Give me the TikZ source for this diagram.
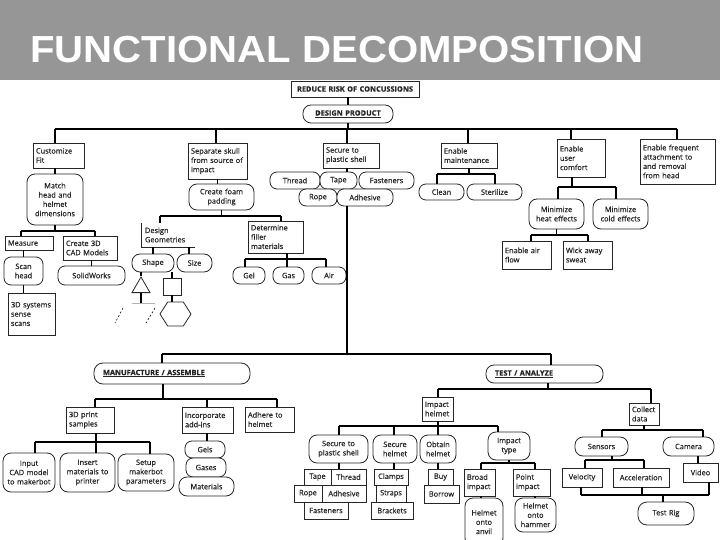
\documentclass[tikz,border=0pt]{standalone}
\usepackage{fontspec}
\setmainfont{Open Sans}
\newfontfamily\diafont{Open Sans}[FakeBold=0.6]
\newfontfamily\titlefont{Liberation Sans}
\usetikzlibrary{shapes.geometric,shadows}
\definecolor{titlegray}{HTML}{969696}
\newcommand\nd[7][]{%
 \pgfmathsetmacro\ndcx{(#3+#5)/2}%
 \pgfmathsetmacro\ndcy{(#4+#6)/2}%
 \pgfmathsetmacro\ndw{#5-#3}%
 \pgfmathsetmacro\ndh{#6-#4}%
 \pgfmathsetmacro\ndtw{#5-#3-6}%
 \node[#1, minimum width=\ndw pt, minimum height=\ndh pt, text width=\ndtw pt] (#2) at (\ndcx,\ndcy) {#7};}
\begin{document}
\begin{tikzpicture}[x=1pt,y=-1pt,
  txt/.style={font=\diafont\fontsize{7.4}{9.3}\selectfont, text=black!85},
  box/.style={txt, draw=black!85, line width=0.8pt, fill=white, inner xsep=3pt, inner ysep=0.5pt, align=left,
     drop shadow={shadow xshift=0.9pt, shadow yshift=-0.9pt, fill=black!40}},
  cbox/.style={box, align=center},
  rnd/.style={txt, draw=black!85, line width=0.8pt, fill=white, rounded corners=6pt, inner xsep=3pt, inner ysep=0.5pt, align=center},
  pill/.style={rnd, rounded corners=7pt},
  plain/.style={txt, inner xsep=3pt, inner ysep=0.5pt, align=left},
  conn/.style={line width=1.6pt, black},
  edge/.style={line width=0.9pt, black!85}]
\useasboundingbox (0,0) rectangle (720,540);
\fill[titlegray] (0,0) rectangle (720,80);
\node[anchor=base west, inner sep=0pt, text=white, font=\titlefont\bfseries\fontsize{37.7}{40}\selectfont] (title) at (30,63) {\scalebox{1.065}[1]{FUNCTIONAL DECOMPOSITION}};

% ---------- design branch ----------
\nd[cbox]{rr}{291}{81}{419}{97}{\bfseries REDUCE RISK OF CONCUSSIONS}
\nd[rnd,rounded corners=8pt]{dp}{303}{105}{393}{123}{\bfseries\underline{DESIGN PRODUCT}}

\nd[box]{cf}{33}{143}{84}{168}{Customize\\Fit}
\nd[box]{ss}{188}{143}{247}{179}{Separate skull\\from source of\\impact}
\nd[box]{sp}{323}{143}{379}{168}{Secure to\\plastic shell}
\nd[box]{em}{441}{143}{497}{168}{Enable\\maintenance}
\nd[box]{uc}{557}{139}{605}{177}{Enable\\user\\comfort}
\nd[box]{ef}{640}{139}{715}{184}{Enable frequent\\attachment to\\and removal\\from head}

\nd[rnd,rounded corners=8pt]{mh}{27}{174}{83}{225}{Match\\head and\\helmet\\dimensions}
\nd[box]{me}{5}{236}{53}{250}{Measure}
\nd[box]{c3}{63}{236}{117}{260}{Create 3D\\CAD Models}
\nd[rnd,rounded corners=7pt]{sh}{4}{257}{43}{285}{Scan\\head}
\nd[box]{s3}{8}{293}{55}{335}{3D systems\\sense\\scans}
\nd[pill]{sw}{58}{266}{125}{285}{SolidWorks}

\nd[rnd,rounded corners=8pt]{fp}{189}{184}{254}{210}{Create foam\\padding}
\nd[plain]{dg}{142}{223}{195}{247}{Design\\Geometries}
\nd[box]{df}{248}{221}{303}{253}{Determine\\filler\\materials}
\nd[pill,rounded corners=8pt]{shp}{132}{254}{174}{272}{Shape}
\nd[pill,rounded corners=8pt]{siz}{177}{254}{212}{272}{Size}
\node[draw=black!85, line width=0.8pt, regular polygon, regular polygon sides=3, minimum size=20.8pt, inner sep=0pt] (tri) at (141,287.4) {};
\node[draw=black!85, line width=0.8pt, minimum width=18pt, minimum height=17pt, inner sep=0pt] (sq) at (172,286.5) {};
\node[draw=black!85, line width=0.8pt, regular polygon, regular polygon sides=6, minimum size=31pt, inner sep=0pt, yscale=0.9] (hex) at (175.5,314) {};
\nd[pill]{gel}{233}{267}{265}{284}{Gel}
\nd[pill]{gas}{273}{267}{304}{284}{Gas}
\nd[pill]{air}{312}{267}{346}{284}{Air}

\nd[pill]{thr}{270}{172}{320}{189}{Thread}
\nd[pill]{fas}{359}{172}{414}{189}{Fasteners}
\nd[pill]{tap}{320}{172}{357}{189}{Tape}
\nd[pill]{rop}{299}{189}{337}{206}{Rope}
\nd[pill]{adh}{337}{189}{393}{206}{Adhesive}

\nd[pill]{cln}{419}{184}{464}{200}{Clean}
\nd[pill]{ste}{467}{184}{522}{200}{Sterilize}

\nd[rnd,rounded corners=8pt]{mhe}{529}{199}{584}{229}{Minimize\\heat effects}
\nd[rnd,rounded corners=8pt]{mce}{593}{199}{648}{229}{Minimize\\cold effects}
\nd[box]{eaf}{502}{241}{551}{269}{Enable air\\flow}
\nd[box]{wck}{563}{241}{612}{269}{Wick away\\sweat}

% ---------- manufacture branch ----------
\nd[rnd,rounded corners=9pt,align=left,inner xsep=9pt]{ma}{100}{363}{244}{384}{\bfseries\underline{MANUFACTURE / ASSEMBLE}}
\nd[rnd,rounded corners=8pt,align=left,inner xsep=9pt]{ta}{492}{365}{597}{383}{\bfseries\underline{TEST / ANALYZE}}
\nd[box]{p3}{66}{407}{114}{433}{3D print\\samples}
\nd[box]{ia}{182}{407}{233}{433}{Incorporate\\add-ins}
\nd[box]{ah}{245}{407}{294}{432}{Adhere to\\helmet}
\nd[rnd,rounded corners=8pt]{ic}{3}{453}{55}{492}{Input\\CAD model\\to makerbot}
\nd[rnd,rounded corners=8pt]{im}{60}{453}{115}{492}{Insert\\materials to\\printer}
\nd[rnd,rounded corners=8pt]{su}{118}{454}{174}{491}{Setup\\makerbot\\parameters}
\nd[pill]{gls}{185}{441}{225}{458}{Gels}
\nd[pill]{gss}{186}{458}{226}{477}{Gases}
\nd[pill,rounded corners=8pt]{mat}{179}{477}{234}{496}{Materials}

% ---------- test branch ----------
\nd[box]{ih}{422}{397}{453}{421}{Impact\\helmet}
\nd[box]{cd}{629}{403}{659}{425}{Collect\\data}
\nd[rnd,rounded corners=8pt]{s2}{309}{435}{368}{463}{Secure to\\plastic shell}
\nd[rnd,rounded corners=8pt]{sh2}{373}{435}{417}{463}{Secure\\helmet}
\nd[rnd,rounded corners=8pt]{oh}{420}{435}{456}{463}{Obtain\\helmet}
\nd[rnd,rounded corners=8pt]{it}{488}{432}{530}{460}{Impact\\type}
\nd[cbox]{tp2}{304}{469}{331}{485}{Tape}
\nd[cbox]{th2}{331}{469}{366}{485}{Thread}
\nd[cbox]{rp2}{294}{485}{322}{502}{Rope}
\nd[cbox]{ad2}{322}{485}{366}{502}{Adhesive}
\nd[cbox]{fa2}{304}{502}{348}{519}{Fasteners}
\nd[cbox]{clp}{374}{469}{408}{485}{Clamps}
\nd[cbox]{str}{376}{485}{406}{502}{Straps}
\nd[cbox]{brk}{371}{502}{413}{519}{Brackets}
\nd[cbox]{buy}{428}{469}{453}{485}{Buy}
\nd[cbox]{bor}{424}{485}{459}{503}{Borrow}
\nd[box]{bi}{464}{469}{495}{496}{Broad\\impact}
\nd[box]{pi}{513}{469}{550}{496}{Point\\impact}
\nd[rnd,rounded corners=8pt]{anv}{465}{498}{503}{546}{Helmet\\onto\\anvil}
\nd[rnd,rounded corners=8pt]{ham}{515}{498}{556}{532}{Helmet\\onto\\hammer}
\nd[pill,rounded corners=8pt]{sen}{575}{437}{628}{456}{Sensors}
\nd[pill,rounded corners=8pt]{cam}{663}{437}{714}{456}{Camera}
\nd[cbox]{vel}{562}{468}{602}{487}{Velocity}
\nd[cbox]{acc}{613}{468}{669}{487}{Acceleration}
\nd[cbox]{vid}{683}{463}{718}{482}{Video}
\nd[rnd,rounded corners=9pt]{trg}{638}{502}{694}{525}{Test Rig}

% ---------- connectors ----------
\draw[conn] (dp.north) -- (dp.north |- rr.south);
\coordinate (bA1) at (55,129); \coordinate (bA2) at (216,129); \coordinate (bA3) at (347,129);
\coordinate (bA4) at (468,129); \coordinate (bA5) at (571,129); \coordinate (bA6) at (677,129);
\draw[conn] (dp.south) -- (dp.south |- bA1);
\draw[conn] (bA1) -- (bA6);
\draw[conn] (bA1) -- (bA1 |- cf.north);
\draw[conn] (bA2) -- (bA2 |- ss.north);
\draw[conn] (bA3) -- (bA3 |- sp.north);
\draw[conn] (bA4) -- (bA4 |- em.north);
\draw[conn] (bA5) -- (bA5 |- uc.north);
\draw[conn] (bA6) -- (bA6 |- ef.north);

\draw[conn] (mh.north) -- (mh.north |- cf.south);
\coordinate (bB1) at (21,231); \coordinate (bB2) at (95,231);
\draw[conn] (mh.south) -- (mh.south |- bB1);
\draw[conn] (bB1) -- (bB2);
\draw[conn] (bB1) -- (bB1 |- me.north);
\draw[conn] (bB2) -- (bB2 |- c3.north);
\draw[conn] (sh.north) -- (sh.north |- me.south);
\draw[conn] (sh.south) -- (sh.south |- s3.north);
\draw[conn] (sw.north) -- (sw.north |- c3.south);

\draw[conn] (ss.south) -- (ss.south |- fp.north);
\coordinate (bC1) at (160,216); \coordinate (bC2) at (281,216);
\draw[conn] (fp.south) -- (fp.south |- bC1);
\draw[conn] (bC1) -- (bC2);
\draw[conn] (bC1) -- (bC1 |- dg.north);
\draw[conn] (bC2) -- (bC2 |- df.north);
\draw[edge] (dg.north west) -- (dg.south west) -- (dg.south east);
\draw[conn] (shp.north) -- (shp.north |- dg.south);
\coordinate (dgS2) at (189,247);
\draw[conn] (dgS2) -- (dgS2 |- siz.north);
\draw[conn] (tri.north) -- (tri.north |- shp.south);
\draw[conn] (sq.north) -- (sq.north |- shp.south);
\coordinate (tb) at (141,303);
\draw[conn] (tri.south) -- (tb);
\draw[conn] (sq.south) -- (sq.south |- hex.north);
\draw[black!30, line width=0.5pt] (132,303) -- (155,303);
\draw[dash pattern=on 2pt off 2pt, line width=0.6pt] (123,308) -- (115,323);
\draw[dash pattern=on 2pt off 2pt, line width=0.6pt] (155,308) -- (146,323);

\coordinate (bD1) at (245,259); \coordinate (bD2) at (287,259); \coordinate (bD3) at (326,259);
\draw[conn] (bD2 |- df.south) -- (bD2 |- gas.north);
\draw[conn] (bD1) -- (bD3);
\draw[conn] (bD1) -- (bD1 |- gel.north);
\draw[conn] (bD3) -- (bD3 |- air.north);

\draw[conn] (bA3 |- sp.south) -- (bA3 |- tap.north);
\coordinate (bE1) at (162,354); \coordinate (bE2) at (347,354); \coordinate (bE3) at (551,354);
\draw[conn] (bE2 |- adh.south) -- (bE2);
\draw[conn] (bE1) -- (bE3);

\coordinate (bF1) at (437,174); \coordinate (bF2) at (495,174);
\draw[conn] (em.south) -- (em.south |- bF1);
\draw[conn] (bF1) -- (bF2);
\draw[conn] (bF1) -- (bF1 |- cln.north);
\draw[conn] (bF2) -- (bF2 |- ste.north);

\coordinate (bG0) at (572,187); \coordinate (bG1) at (558,187); \coordinate (bG2) at (616,187);
\draw[conn] (bG0 |- uc.south) -- (bG0);
\draw[conn] (bG1) -- (bG2);
\draw[conn] (bG1) -- (bG1 |- mhe.north);
\draw[conn] (bG2) -- (bG2 |- mce.north);
\coordinate (bH1) at (531,235); \coordinate (bH2) at (588,235);
\draw[conn] (mhe.south) -- (mhe.south |- bH1);
\draw[conn] (bH1) -- (bH2);
\draw[conn] (bH1) -- (bH1 |- eaf.north);
\draw[conn] (bH2) -- (bH2 |- wck.north);

% lower
\draw[conn] (bE1) -- (bE1 |- ma.north);
\draw[conn] (bE3) -- (bE3 |- ta.north);
\coordinate (bI0) at (163,399); \coordinate (bI1) at (95,399); \coordinate (bI2) at (207,399); \coordinate (bI3) at (277,399);
\draw[conn] (bI0 |- ma.south) -- (bI0);
\draw[conn] (bI1) -- (bI3);
\draw[conn] (bI1) -- (bI1 |- p3.north);
\draw[conn] (bI2) -- (bI2 |- ia.north);
\draw[conn] (bI3) -- (bI3 |- ah.north);
\coordinate (bJ1) at (35,442); \coordinate (bJ2) at (96,442); \coordinate (bJ3) at (150,442);
\draw[conn] (bJ2 |- p3.south) -- (bJ2 |- im.north);
\draw[conn] (bJ1) -- (bJ3);
\draw[conn] (bJ1) -- (bJ1 |- ic.north);
\draw[conn] (bJ3) -- (bJ3 |- su.north);
\draw[conn] (bI2 |- ia.south) -- (bI2 |- gls.north);

\coordinate (bK0) at (548,389); \coordinate (bK1) at (438,389); \coordinate (bK2) at (651,389);
\draw[conn] (bK0 |- ta.south) -- (bK0);
\draw[conn] (bK1) -- (bK2);
\draw[conn] (bK1) -- (bK1 |- ih.north);
\draw[conn] (bK2) -- (bK2 |- cd.north);
\coordinate (bL1) at (339,426); \coordinate (bL2) at (394,426); \coordinate (bL3) at (438,426); \coordinate (bL4) at (498,426);
\draw[conn] (bL3 |- ih.south) -- (bL3 |- oh.north);
\draw[conn] (bL1) -- (bL4);
\draw[conn] (bL1) -- (bL1 |- s2.north);
\draw[conn] (bL2) -- (bL2 |- sh2.north);
\draw[conn] (bL4) -- (bL4 |- it.north);
\draw[conn] (bL1 |- s2.south) -- (bL1 |- tp2.north);
\draw[conn] (bL2 |- sh2.south) -- (bL2 |- clp.north);
\draw[conn] (oh.south) -- (oh.south |- buy.north);
\coordinate (bM1) at (481,463); \coordinate (bM2) at (535,463);
\draw[conn] (it.south) -- (it.south |- bM1);
\draw[conn] (bM1) -- (bM2);
\draw[conn] (bM1) -- (bM1 |- bi.north);
\draw[conn] (bM2) -- (bM2 |- pi.north);
\draw[conn] (bM1 |- bi.south) -- (bM1 |- anv.north);
\draw[conn] (bM2 |- pi.south) -- (bM2 |- ham.north);

\coordinate (bN1) at (602,430); \coordinate (bN2) at (703,430);
\draw[conn] (cd.south) -- (cd.south |- bN1);
\draw[conn] (bN1) -- (bN2);
\draw[conn] (bN1) -- (bN1 |- sen.north);
\draw[conn] (bN2) -- (bN2 |- cam.north);
\coordinate (bO0) at (612,460); \coordinate (bO1) at (585,460); \coordinate (bO2) at (644,460);
\draw[conn] (bO0 |- sen.south) -- (bO0);
\draw[conn] (bO1) -- (bO2);
\draw[conn] (bO1) -- (bO1 |- vel.north);
\draw[conn] (bO2) -- (bO2 |- acc.north);
\coordinate (bP0) at (698,460);
\draw[conn] (bP0 |- cam.south) -- (bP0 |- vid.north);
\coordinate (bQ0) at (663,495); \coordinate (bQ1) at (581,495); \coordinate (bQ2) at (642,495); \coordinate (bQ3) at (709,495);
\draw[conn] (bQ1) -- (bQ3);
\draw[conn] (bQ1) -- (bQ1 |- vel.south);
\draw[conn] (bQ2) -- (bQ2 |- acc.south);
\draw[conn] (bQ3) -- (bQ3 |- vid.south);
\draw[conn] (bQ0) -- (bQ0 |- trg.north);
\end{tikzpicture}
\end{document}
